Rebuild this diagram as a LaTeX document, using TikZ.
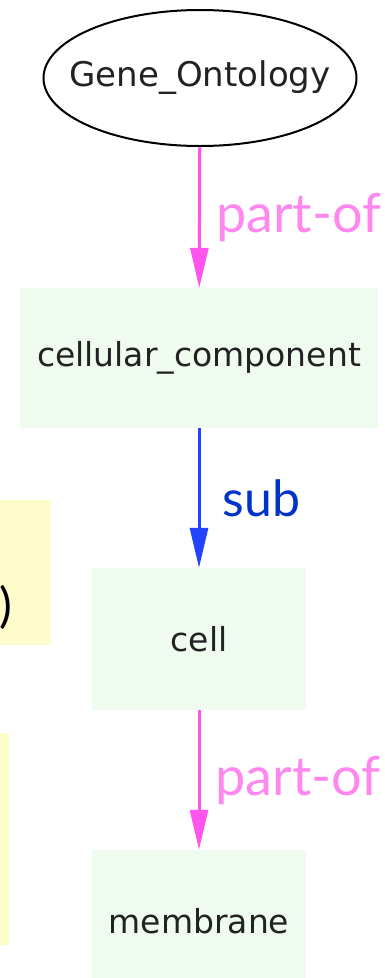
\documentclass[tikz,border=0pt]{standalone}
\usepackage{fontspec}
\setmainfont{DejaVu Sans}
\newfontfamily\labelfont{Lato}
\usetikzlibrary{
	arrows.meta,
	shapes.geometric,
	% positioning,
}
\definecolor{termgreen}{HTML}{EEFBEE}
\definecolor{termtext}{HTML}{222222}
\definecolor{notebg}{HTML}{FFFCCC}
\definecolor{partpink}{HTML}{FF55EE}
\definecolor{partlabel}{HTML}{FF88EE}
\definecolor{subblue}{HTML}{2244FF}
\definecolor{sublabel}{HTML}{0033CC}
\tikzset{
	term/.style = {rectangle, fill=termgreen, inner sep=0pt, text=termtext, font=\fontsize{33}{38}\selectfont},
	partof/.style = {line width=3pt, partpink, -{Triangle[length=40pt,width=18pt]}},
	isa/.style = {line width=3pt, subblue, -{Triangle[length=40pt,width=18pt]}},
	rellabel/.style = {right, inner sep=0pt, xshift=15pt, font=\labelfont\fontsize{54}{58}\selectfont},
}

\begin{document}
\begin{tikzpicture}[x=1pt, y=-1pt]
	\useasboundingbox (0,0) rectangle (385,978);
	\clip (0,0) rectangle (385,978);

	% notes sticking in from the left
	\fill[notebg] (-120,500) rectangle (51,645);
	\fill[notebg] (-120,733) rectangle (9,945);
	\node[anchor=east, inner sep=0pt, font=\labelfont\fontsize{48}{52}\selectfont] (paren) at (13,607) {)};

	% ontology terms
	\node[ellipse, draw, line width=2pt, minimum width=313pt, minimum height=136pt,
		inner xsep=-22pt, inner ysep=0pt,
		text=termtext, font=\fontsize{34}{38}\selectfont] (root) at (200,78) {Gene\_Ontology};
	\node[term, minimum width=358pt, minimum height=140pt] (comp) at (199,358) {cellular\_component};
	\node[term, minimum width=214pt, minimum height=142pt] (cell) at (199,639) {cell};
	\node[term, minimum width=214pt, minimum height=142pt] (membrane) at (199,921) {membrane};

	% relations
	\draw[partof] (root) -- (comp) node[midway, rellabel, partlabel] {part-of};
	\draw[isa] (comp) -- (cell) node[midway, rellabel, sublabel, xshift=7pt, font=\labelfont\fontsize{50}{54}\selectfont] {sub};
	\draw[partof] (cell) -- (membrane) node[midway, rellabel, partlabel] {part-of};

\end{tikzpicture}
\end{document}
